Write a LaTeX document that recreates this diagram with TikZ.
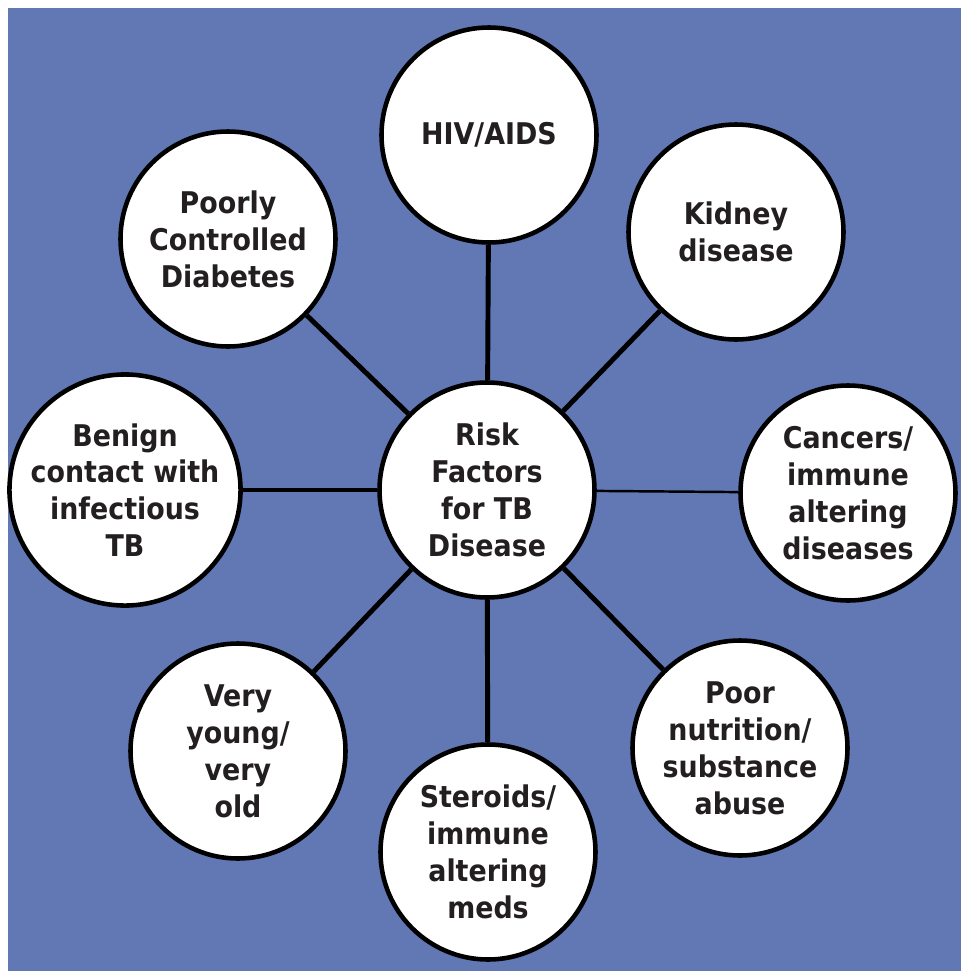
\documentclass[tikz,border=0pt]{standalone}
\usepackage{fontspec}
\newfontfamily\riskfont{DejaVu Sans Condensed}
\definecolor{sfondo}{RGB}{97,120,181}
\definecolor{testo}{RGB}{35,31,32}
\tikzset{
  fattore/.style={circle,draw=black,fill=white,line width=2.6pt,minimum size=4.3cm,inner sep=0pt,
    align=center,text=testo,font=\riskfont\bfseries\fontsize{17}{21}\selectfont},
  raggio/.style={line width=2.8pt}
}
\begin{document}
\begin{tikzpicture}
    \useasboundingbox (0,0) rectangle (19.22,-19.42);
    \fill[sfondo] (0.16,-0.16) rectangle (19.22,-19.42);

    %cerchi
    \node[fattore] (rischio) at (9.74,-9.80) {Risk\\Factors\\for TB\\Disease};
    \node[fattore] (hiv) at (9.78,-2.70) {HIV/AIDS};
    \node[fattore] (rene) at (14.72,-4.64) {Kidney\\disease};
    \node[fattore] (cancro) at (16.96,-9.86) {Cancers/\\immune\\altering\\diseases};
    \node[fattore] (nutrizione) at (14.80,-14.96) {Poor\\nutrition/\\substance\\abuse};
    \node[fattore] (steroidi) at (9.76,-17.04) {Steroids/\\immune\\altering\\meds};
    \node[fattore] (eta) at (4.76,-15.02) {Very\\young/\\very\\old};
    \node[fattore] (contatto) at (2.50,-9.80) {Benign\\contact with\\infectious\\TB};
    \node[fattore] (diabete) at (4.56,-4.78) {Poorly\\Controlled\\Diabetes};

    %raggi
    \draw[raggio] (rischio) -- (hiv);
    \draw[raggio] (rischio) -- (rene);
    \draw[line width=1.4pt] (rischio) -- (cancro);
    \draw[raggio] (rischio) -- (nutrizione);
    \draw[raggio] (rischio) -- (steroidi);
    \draw[raggio] (rischio) -- (eta);
    \draw[raggio] (rischio) -- (contatto);
    \draw[raggio] (rischio) -- (diabete);
\end{tikzpicture}
\end{document}
